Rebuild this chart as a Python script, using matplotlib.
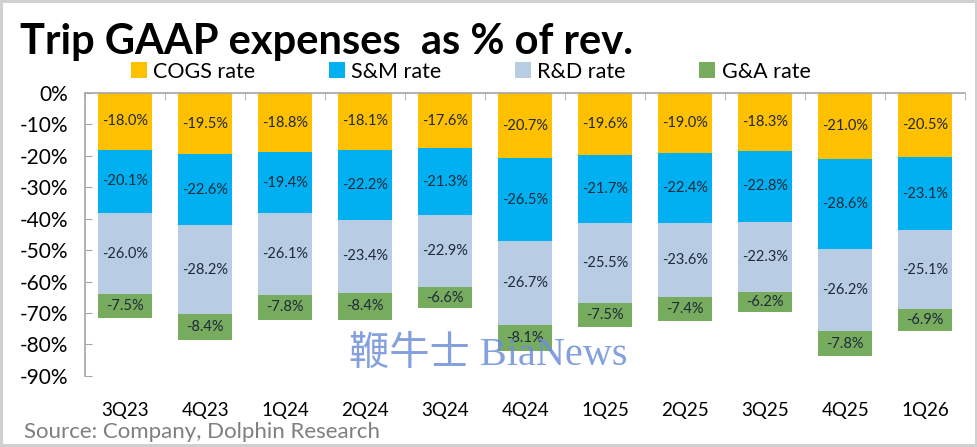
import matplotlib
matplotlib.use('Agg')
import matplotlib.pyplot as plt
from matplotlib.patches import Patch

plt.rcParams['font.family'] = ['Lato', 'DejaVu Sans']

# Data (expense rates as % of revenue, shown as negatives)
quarters = ['3Q23', '4Q23', '1Q24', '2Q24', '3Q24', '4Q24', '1Q25', '2Q25', '3Q25', '4Q25', '1Q26']
cogs_rate = [18.0, 19.5, 18.8, 18.1, 17.6, 20.7, 19.6, 19.0, 18.3, 21.0, 20.5]
sm_rate = [20.1, 22.6, 19.4, 22.2, 21.3, 26.5, 21.7, 22.4, 22.8, 28.6, 23.1]
rd_rate = [26.0, 28.2, 26.1, 23.4, 22.9, 26.7, 25.5, 23.6, 22.3, 26.2, 25.1]
ga_rate = [7.5, 8.4, 7.8, 8.4, 6.6, 8.1, 7.5, 7.4, 6.2, 7.8, 6.9]

series = [
    ('COGS rate', cogs_rate, '#FFC000'),
    ('S&M rate', sm_rate, '#00B0F0'),
    ('R&D rate', rd_rate, '#B8CCE4'),
    ('G&A rate', ga_rate, '#77AB5E'),
]

fig = plt.figure(figsize=(9.78, 4.47), dpi=100)
fig.patch.set_edgecolor('#d0d0d0')
fig.patch.set_linewidth(4)
ax = fig.add_axes([0.087, 0.159, 0.900, 0.633])

x = list(range(len(quarters)))
bottom = [0.0] * len(quarters)
handles = []
for name, vals, color in series:
    neg = [-v for v in vals]
    ax.bar(x, neg, bottom=bottom, width=0.68, color=color, label=name)
    for xi, b, v in zip(x, bottom, vals):
        ax.text(xi, b - v / 2, f'-{v:.1f}%', ha='center', va='center',
                fontsize=10.5, color='#1f2a3a')
    bottom = [b - v for b, v in zip(bottom, vals)]
    handles.append(Patch(facecolor=color, label=name))

ax.set_xlim(-0.5, len(quarters) - 0.5)
ax.set_ylim(-90, 0)
ax.set_yticks(range(0, -100, -10))
ax.set_yticklabels([f'{t}%' for t in range(0, -100, -10)], fontsize=15)
ax.set_xticks(x)
ax.set_xticklabels(quarters, fontsize=13.5)
ax.tick_params(axis='x', which='major', length=0, pad=19)
ax.set_xticks([i - 0.5 for i in range(len(quarters) + 1)], minor=True)
ax.tick_params(axis='x', which='minor', top=True, bottom=False, direction='in',
               length=5, color='#a6a6a6')
ax.tick_params(axis='y', direction='in', length=5, color='#a6a6a6', pad=12)

for side in ['right', 'bottom']:
    ax.spines[side].set_visible(False)
for side in ['left', 'top']:
    ax.spines[side].set_color('#a6a6a6')
    ax.spines[side].set_linewidth(1.2)

fig.legend(handles=handles, ncol=4, loc='center left', bbox_to_anchor=(0.125, 0.84),
           frameon=False, fontsize=15.5, handlelength=0.75, handleheight=0.75,
           handletextpad=0.3, columnspacing=3.4, borderaxespad=0)

fig.text(0.02, 0.905, 'Trip GAAP expenses  as % of rev.', fontsize=30, fontweight='bold',
         ha='left', va='center', color='black')
fig.text(0.025, 0.034, 'Source: Company, Dolphin Research', fontsize=16,
         ha='left', va='center', color='#7f7f7f')

# BiaNews watermark
fig.text(0.499, 0.205, '鞭牛士 BiaNews', fontsize=29, ha='center', va='center',
         color='#6f8fd8', alpha=0.85, family=['Liberation Serif', 'Noto Sans CJK SC'])

fig.savefig('out.png', dpi=100)
